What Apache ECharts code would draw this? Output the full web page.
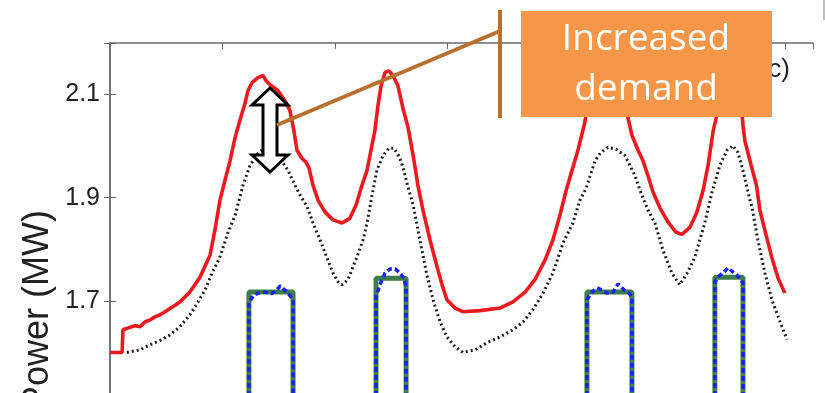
<!DOCTYPE html>
<html><head><meta charset="utf-8">
<script src="https://cdn.jsdelivr.net/npm/echarts/dist/echarts.min.js"></script>
<style>html,body{margin:0;padding:0;background:#fff;overflow:hidden;width:825px;height:393px}#c{width:825px;height:440px}</style>
</head><body><div id="c"></div>
<script>
// tick labels shown on the power axis
const yTickLabels = [1.7, 1.9, 2.1];
// hours vs MW
const redDemand = [
[0,1.6],[0.43,1.6],[0.46,1.644],[0.89,1.652],[1.07,1.650],[1.24,1.659],[1.42,1.663],[1.60,1.669],[1.78,1.673],
[1.96,1.679],[2.13,1.685],[2.49,1.698],[2.84,1.717],[3.20,1.746],[3.56,1.789],[3.73,1.837],[3.91,1.895],[4.09,1.934],
[4.27,1.972],[4.45,2.017],[4.62,2.050],[4.80,2.083],[4.91,2.108],[5.05,2.123],[5.26,2.133],[5.44,2.137],[5.55,2.127],
[5.69,2.119],[5.97,2.108],[6.22,2.088],[6.40,2.069],[6.54,2.030],[6.65,1.992],[6.83,1.976],[6.97,1.969],[7.08,1.957],
[7.22,1.924],[7.40,1.895],[7.65,1.872],[7.93,1.857],[8.25,1.851],[8.53,1.860],[8.75,1.886],[8.96,1.924],[9.14,1.953],
[9.28,1.992],[9.42,2.030],[9.53,2.079],[9.64,2.117],[9.78,2.143],[9.92,2.146],[10.06,2.137],[10.24,2.117],[10.42,2.073],
[10.60,2.036],[10.78,1.982],[10.95,1.924],[11.13,1.876],[11.38,1.818],[11.63,1.766],[11.81,1.731],[11.98,1.702],
[12.27,1.686],[12.55,1.679],[13.16,1.681],[13.87,1.686],[14.33,1.698],[14.76,1.717],[15.11,1.741],[15.47,1.779],
[15.75,1.818],[16.00,1.866],[16.22,1.914],[16.43,1.953],[16.64,1.992],[16.86,2.040],[17.00,2.079],[17.21,2.117],
[17.43,2.137],[17.64,2.143],[17.89,2.131],[18.14,2.104],[18.38,2.065],[18.56,2.021],[18.78,1.992],[18.95,1.972],
[19.13,1.943],[19.31,1.911],[19.56,1.880],[19.84,1.853],[20.13,1.833],[20.34,1.829],[20.63,1.843],[20.87,1.872],
[21.09,1.914],[21.27,1.963],[21.45,2.030],[21.62,2.069],[21.76,2.108],[21.94,2.131],[22.12,2.137],[22.30,2.127],
[22.44,2.088],[22.51,2.040],[22.58,2.010],[22.79,1.965],[22.99,1.924],[23.11,1.876],[23.33,1.828],[23.54,1.783],
[23.76,1.744],[24.00,1.715]
];
const baseDemand = [
[0.60,1.600],[1.07,1.605],[1.42,1.615],[1.78,1.623],[2.13,1.634],[2.49,1.650],[2.84,1.673],[3.13,1.698],[3.38,1.721],
[3.63,1.754],[3.91,1.785],[4.20,1.833],[4.45,1.866],[4.73,1.924],[4.98,1.963],[5.26,1.986],[5.51,1.996],[5.76,1.992],
[6.05,1.976],[6.33,1.953],[6.58,1.924],[6.76,1.905],[7.01,1.882],[7.25,1.847],[7.47,1.818],[7.72,1.783],[7.93,1.754],
[8.11,1.737],[8.25,1.731],[8.46,1.741],[8.78,1.785],[9.00,1.818],[9.14,1.851],[9.32,1.905],[9.49,1.953],[9.71,1.982],
[9.92,1.996],[10.10,1.996],[10.28,1.980],[10.42,1.959],[10.60,1.920],[10.78,1.886],[11.02,1.818],[11.27,1.750],
[11.49,1.702],[11.74,1.659],[11.98,1.630],[12.27,1.611],[12.55,1.600],[12.98,1.605],[13.41,1.619],[13.87,1.630],
[14.33,1.644],[14.69,1.659],[15.04,1.683],[15.40,1.715],[15.75,1.754],[16.11,1.812],[16.46,1.851],[16.71,1.895],
[16.93,1.918],[17.25,1.972],[17.46,1.988],[17.71,1.998],[17.99,1.994],[18.31,1.982],[18.67,1.943],[18.85,1.914],
[19.13,1.876],[19.38,1.851],[19.66,1.799],[19.98,1.754],[20.26,1.731],[20.55,1.756],[20.80,1.785],[21.15,1.851],
[21.41,1.911],[21.69,1.963],[21.94,1.992],[22.15,2.001],[22.33,1.988],[22.51,1.953],[22.76,1.895],[22.83,1.882],
[23.04,1.818],[23.29,1.754],[23.54,1.702],[23.83,1.659],[24.08,1.625]
];
// [start hour, end hour, level MW]
const greenPulses = [[4.94,6.51,1.717],[9.46,10.53,1.744],[16.96,18.56,1.717],[21.51,22.51,1.746]];
const bluePulse1 = [[4.94,1.696],[5.09,1.710],[5.26,1.715],[5.51,1.717],[5.73,1.714],[5.90,1.719],[6.05,1.729],[6.22,1.721],[6.40,1.710],[6.51,1.702]];
const bluePulse2 = [[9.46,1.708],[9.60,1.731],[9.78,1.754],[9.96,1.762],[10.14,1.762],[10.31,1.754],[10.46,1.744],[10.53,1.725]];
const bluePulse3 = [[16.96,1.702],[17.14,1.717],[17.32,1.725],[17.50,1.721],[17.67,1.715],[17.89,1.717],[18.07,1.733],[18.28,1.721],[18.46,1.715],[18.56,1.706]];
const bluePulse4 = [[21.51,1.737],[21.66,1.748],[21.83,1.756],[21.98,1.764],[22.15,1.756],[22.33,1.748],[22.51,1.735]];
const AXIS_MIN = 1.5, AXIS_MAX = 2.2;

const chart = echarts.init(document.getElementById('c'), null, {renderer:'canvas'});
const axisCol = '#6a6a6a';
const series = [];
greenPulses.forEach(p => {
  series.push({type:'line', showSymbol:false, animation:false, z:2,
    lineStyle:{color:'#3e7d4c', width:5},
    data:[[p[0],AXIS_MIN],[p[0],p[2]],[p[1],p[2]],[p[1],AXIS_MIN]]});
});
[bluePulse1,bluePulse2,bluePulse3,bluePulse4].forEach(b => {
  const d = [[b[0][0],AXIS_MIN]].concat(b).concat([[b[b.length-1][0],AXIS_MIN]]);
  series.push({type:'line', showSymbol:false, animation:false, z:3,
    lineStyle:{color:'#1a22ee', width:3.5, type:[5,3]}, data:d});
});
series.push({type:'line', showSymbol:false, animation:false, z:4,
  lineStyle:{color:'#1e1e1e', width:3, type:[2,3]}, data:baseDemand});
series.push({type:'line', showSymbol:false, animation:false, z:5,
  lineStyle:{color:'#ec1a1f', width:3.6}, data:redDemand});

chart.setOption({
  animation:false,
  grid:{left:110, top:43, width:703, height:361},
  xAxis:[
    {type:'value', min:0, max:25, interval:4, position:'bottom',
     axisLine:{lineStyle:{color:axisCol, width:1.5}}, axisTick:{inside:true, length:6, lineStyle:{color:axisCol}},
     axisLabel:{show:false}, splitLine:{show:false}},
    {type:'value', min:0, max:25, interval:4, position:'top',
     axisLine:{lineStyle:{color:axisCol, width:1.5}}, axisTick:{inside:true, length:6, lineStyle:{color:axisCol}},
     axisLabel:{show:false}, splitLine:{show:false}}
  ],
  yAxis:[
    {type:'value', min:AXIS_MIN, max:AXIS_MAX, interval:0.2, position:'left',
     axisLine:{show:true, lineStyle:{color:axisCol, width:1.5}},
     axisTick:{show:true, inside:true, length:6, lineStyle:{color:axisCol}},
     splitLine:{show:false},
     axisLabel:{margin:10, fontSize:25, color:'#222', fontFamily:'Liberation Sans, Arial, sans-serif',
       formatter:v => { const r = Math.round(v*10)/10; return yTickLabels.includes(r) ? r.toFixed(1) : ''; }}},
    {type:'value', min:AXIS_MIN, max:AXIS_MAX, interval:0.2, position:'right',
     axisLine:{show:true, lineStyle:{color:axisCol, width:1.5}},
     axisTick:{show:true, inside:true, length:6, lineStyle:{color:axisCol}},
     splitLine:{show:false}, axisLabel:{show:false}}
  ],
  series: series,
  graphic:[
    {type:'text', x:38, y:210, rotation:Math.PI/2, z:50,
     style:{text:'Power (MW)', font:'36px "Liberation Sans", Arial, sans-serif', fill:'#222', align:'right', verticalAlign:'middle'}},
    {type:'text', x:790, y:70, z:50,
     style:{text:'(c)', font:'26px "Liberation Sans", Arial, sans-serif', fill:'#222', align:'right', verticalAlign:'middle'}},
    {type:'line', z:50, shape:{x1:824, y1:0, x2:824, y2:20}, style:{stroke:'#aaa', lineWidth:1.5}},
    {type:'polygon', z:60,
     shape:{points:[[270,88],[288,105],[277,105],[277,155],[288,155],[270,172],[252,155],[263,155],[263,105],[252,105]]},
     style:{fill:'#fff', stroke:'#000', lineWidth:3, lineJoin:'miter'}},
    {type:'line', z:70, shape:{x1:500, y1:31, x2:277, y2:125}, style:{stroke:'#b8702f', lineWidth:4}},
    {type:'line', z:70, shape:{x1:500, y1:10, x2:500, y2:118}, style:{stroke:'#b8702f', lineWidth:4}},
    {type:'rect', z:80, shape:{x:521, y:11, width:251, height:106}, style:{fill:'#f59648'}},
    {type:'text', z:90, x:646, y:64,
     style:{text:'Increased\ndemand', font:'37px "Open Sans", "Noto Sans", sans-serif', fill:'#fff',
       align:'center', verticalAlign:'middle', lineHeight:50}}
  ]
});
</script></body></html>
